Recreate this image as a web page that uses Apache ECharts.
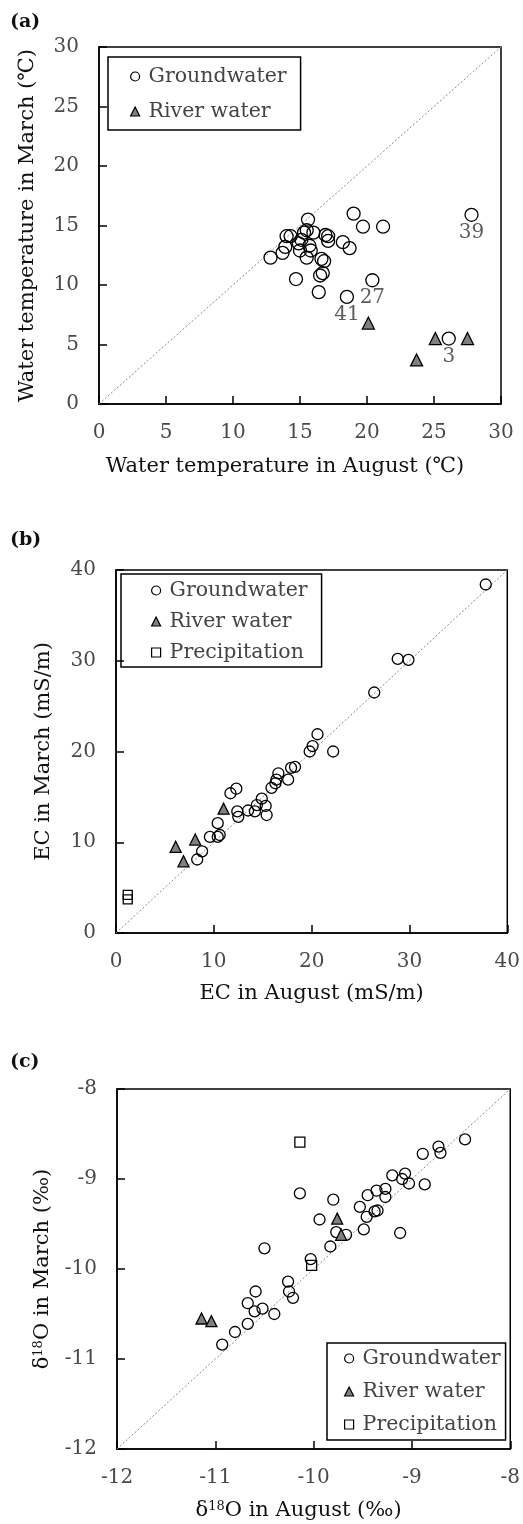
<!DOCTYPE html>
<html>
<head>
<meta charset="utf-8">
<script src="https://cdn.jsdelivr.net/npm/echarts@6/dist/echarts.min.js"></script>
<style>
  body { margin: 0; background: #fff; }
  #chart { width: 523px; height: 1524px; }
</style>
</head>
<body>
<div id="chart"></div>
<script>
// (a) water temperature, August vs March (deg C)
var tempGw = [
  [12.8, 12.3], [13.7, 12.7], [13.9, 13.2], [14.0, 14.1], [14.3, 14.1], [14.7, 10.5],
  [14.9, 13.5], [15.0, 12.9], [15.1, 13.8], [15.3, 14.4], [15.5, 14.6], [15.6, 15.5],
  [15.5, 12.3], [15.7, 13.3], [15.8, 12.9], [16.0, 14.4], [16.4, 9.4], [16.5, 10.8],
  [16.7, 11.0], [16.6, 12.2], [16.8, 12.0], [16.9, 14.2], [17.1, 14.1], [17.1, 13.7],
  [18.2, 13.6], [18.7, 13.1], [19.0, 16.0], [19.7, 14.9], [21.2, 14.9], [20.4, 10.4],
  [18.5, 9.0], [27.8, 15.9], [26.1, 5.5]
];
var tempRiver = [[20.1, 6.8], [23.7, 3.7], [25.1, 5.5], [27.5, 5.5]];
var tempNotes = [[27.8, 15.9, '39'], [20.4, 10.4, '27'], [18.5, 9.0, '41'], [26.1, 5.5, '3']];
var tempTicks = [0, 30, 5];

// (b) EC, August vs March (mS/m)
var ecGw = [
  [37.8, 38.4], [28.8, 30.2], [29.9, 30.1], [26.4, 26.5], [20.6, 21.9], [22.2, 20.0],
  [19.8, 20.0], [20.1, 20.6], [16.6, 17.6], [16.4, 16.9], [17.9, 18.2], [18.3, 18.3],
  [17.6, 16.9], [15.9, 16.0], [16.3, 16.5], [11.7, 15.4], [12.3, 15.9], [12.4, 13.4],
  [12.5, 12.8], [13.5, 13.5], [14.2, 13.4], [14.4, 14.1], [14.9, 14.8], [15.3, 14.0],
  [15.4, 13.0], [10.4, 12.1], [10.6, 10.8], [9.6, 10.6], [10.4, 10.6], [8.8, 9.0],
  [8.3, 8.1]
];
var ecRiver = [[6.1, 9.5], [8.1, 10.3], [6.9, 7.9], [11.0, 13.7]];
var ecPrecip = [[1.2, 3.7], [1.2, 4.2]];
var ecTicks = [0, 40, 10];

// (c) d18O, August vs March (permil)
var oGw = [
  [-8.46, -8.56], [-8.73, -8.64], [-8.71, -8.71], [-8.89, -8.72], [-8.87, -9.06], [-9.12, -9.6],
  [-9.2, -8.96], [-9.07, -8.94], [-9.1, -9.0], [-9.03, -9.05], [-9.27, -9.11], [-9.27, -9.2],
  [-9.36, -9.13], [-9.45, -9.18], [-9.53, -9.31], [-9.35, -9.35], [-9.38, -9.36], [-9.46, -9.42],
  [-9.49, -9.56], [-9.67, -9.62], [-9.77, -9.59], [-9.83, -9.75], [-9.8, -9.23], [-9.94, -9.45],
  [-10.14, -9.16], [-10.5, -9.77], [-10.03, -9.89], [-10.26, -10.14], [-10.25, -10.25], [-10.21, -10.32],
  [-10.59, -10.25], [-10.67, -10.38], [-10.6, -10.47], [-10.52, -10.44], [-10.4, -10.5], [-10.67, -10.61],
  [-10.8, -10.7], [-10.93, -10.84]
];
var oRiver = [[-9.76, -9.44], [-9.72, -9.62], [-11.14, -10.55], [-11.04, -10.58]];
var oPrecip = [[-10.14, -8.59], [-10.02, -9.96]];
var oTicks = [-12, -8, 1];

var FONT = 'DejaVu Serif';
var tickColor = '#4d4848';
var nameColor = '#111';

var chart = echarts.init(document.getElementById('chart'));

function axis(idx, ticks, name, gap, isY, shift) {
  return {
    type: 'value',
    gridIndex: idx,
    min: ticks[0], max: ticks[1], interval: ticks[2],
    name: name,
    nameLocation: 'middle',
    nameGap: gap,
    nameTextStyle: {
      fontFamily: FONT, fontSize: 21, color: nameColor,
      padding: [0, shift || 0, 0, 0],
      rich: {
        n: { fontFamily: FONT, fontSize: 21, color: nameColor },
        s: { fontFamily: FONT, fontSize: 13, color: nameColor, padding: [0, 0, 9, 0] }
      }
    },
    axisLine: { show: true, onZero: false, lineStyle: { color: '#000', width: 1.5 } },
    axisTick: { show: true, inside: true, length: 8, lineStyle: { color: '#000', width: 1.5 } },
    axisLabel: { fontFamily: FONT, fontSize: 20, color: tickColor, margin: isY ? 20 : 19 },
    splitLine: { show: false }
  };
}

function pts(name, data, xi, symbol, size, fill) {
  return {
    name: name, type: 'scatter', xAxisIndex: xi, yAxisIndex: xi,
    symbol: symbol, symbolSize: size, data: data,
    itemStyle: { color: fill, borderColor: '#000', borderWidth: 1.3, opacity: 1 }
  };
}

function diag(xi, ticks) {
  return {
    type: 'line', xAxisIndex: xi, yAxisIndex: xi, silent: true, symbol: 'none',
    data: [[ticks[0], ticks[0]], [ticks[1], ticks[1]]],
    lineStyle: { color: '#8a8a8a', width: 1, type: [2, 2] }, z: 1
  };
}

function legend(names, pos) {
  var icons = { 'Groundwater': 'circle', 'River water': 'triangle', 'Precipitation': 'rect' };
  var fills = { 'Groundwater': '#fff', 'River water': '#808080', 'Precipitation': '#fff' };
  return Object.assign({
    orient: 'vertical',
    itemWidth: 9, itemHeight: 9, itemGap: 12,
    borderColor: '#000', borderWidth: 1.5,
    selectedMode: false,
    textStyle: { fontFamily: FONT, fontSize: 20.5, color: '#444', padding: [0, 0, 0, 4] },
    data: names.map(function (n) {
      return { name: n, icon: icons[n], itemStyle: { color: fills[n], borderColor: '#000', borderWidth: 1.2 } };
    })
  }, pos);
}

var panelTitle = function (text, top) {
  return { text: text, left: 5, top: top, textStyle: { fontFamily: FONT, fontSize: 19, fontWeight: 600, color: '#111' } };
};

chart.setOption({
  animation: false,
  title: [panelTitle('(a)', 8), panelTitle('(b)', 526), panelTitle('(c)', 1048)],
  grid: [
    { left: 99, top: 47, width: 402, height: 357, show: true, borderColor: '#000', borderWidth: 1.5 },
    { left: 116, top: 570, width: 392, height: 363, show: true, borderColor: '#000', borderWidth: 1.5 },
    { left: 117, top: 1089, width: 395, height: 360, show: true, borderColor: '#000', borderWidth: 1.5 }
  ],
  legend: [
    legend(['Groundwater', 'River water'], { left: 108, top: 57, itemGap: 14, padding: [9, 14, 8, 22] }),
    legend(['Groundwater', 'River water', 'Precipitation'], { left: 121, top: 574, itemGap: 10, padding: [6, 14, 4, 30] }),
    legend(['Groundwater', 'River water', 'Precipitation'], { left: 327, top: 1343, itemGap: 12, padding: [5, 5, 5, 17] })
  ],
  xAxis: [
    axis(0, tempTicks, 'Water temperature in August (\u2103)', 52, false, 30),
    axis(1, ecTicks, 'EC in August (mS/m)', 50, false, 0),
    axis(2, oTicks, '{n|\u03b4}{s|18}{n|O in August (\u2030)}', 51, false, 30)
  ],
  yAxis: [
    axis(0, tempTicks, 'Water temperature in March (\u2103)', 61, true),
    axis(1, ecTicks, 'EC in March (mS/m)', 62, true),
    axis(2, oTicks, '{n|\u03b4}{s|18}{n|O in March (\u2030)}', 63, true)
  ],
  series: [
    diag(0, tempTicks),
    pts('Groundwater', tempGw, 0, 'circle', 13, 'rgba(255,255,255,0)'),
    pts('River water', tempRiver, 0, 'triangle', 12, '#808080'),
    {
      type: 'scatter', xAxisIndex: 0, yAxisIndex: 0, silent: true, symbolSize: 0,
      data: tempNotes,
      label: {
        show: true, position: 'bottom', distance: 8,
        fontFamily: FONT, fontSize: 20, color: '#333',
        formatter: function (p) { return p.data[2]; }
      }
    },
    diag(1, ecTicks),
    pts('Groundwater', ecGw, 1, 'circle', 11, 'rgba(255,255,255,0)'),
    pts('River water', ecRiver, 1, 'triangle', 11, '#808080'),
    pts('Precipitation', ecPrecip, 1, 'rect', 9, 'rgba(255,255,255,0)'),
    diag(2, oTicks),
    pts('Groundwater', oGw, 2, 'circle', 11, 'rgba(255,255,255,0)'),
    pts('River water', oRiver, 2, 'triangle', 11, '#808080'),
    pts('Precipitation', oPrecip, 2, 'rect', 10, 'rgba(255,255,255,0)')
  ]
});
</script>
</body>
</html>
